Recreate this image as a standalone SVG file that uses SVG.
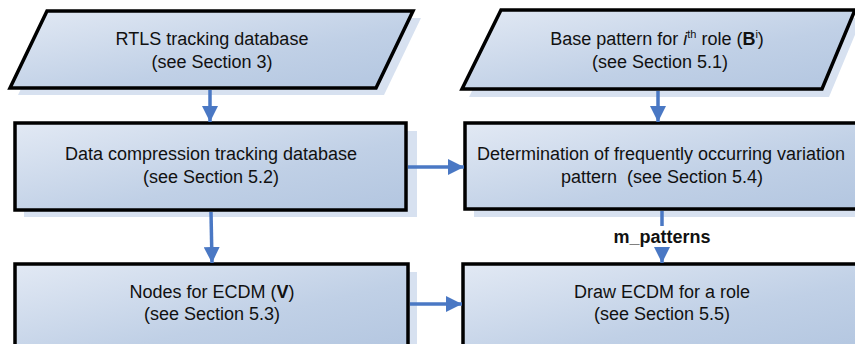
<svg xmlns="http://www.w3.org/2000/svg" width="855" height="344" viewBox="0 0 855 344">
<defs>
<linearGradient id="g" x1="0" y1="0" x2="1" y2="1">
<stop offset="0" stop-color="#e2e9f4"/>
<stop offset="0.6" stop-color="#c0d0e6"/>
<stop offset="1" stop-color="#b3c6e0"/>
</linearGradient>
<marker id="ah" markerUnits="userSpaceOnUse" markerWidth="16" markerHeight="16" viewBox="0 0 16 16" refX="16" refY="8" orient="auto">
<path d="M0,0 L16,8 L0,16 Z" fill="#4a78c4"/>
</marker>
</defs>
<style>
.sh{fill:#d7e1f0;}
.nd{fill:url(#g);stroke:#000;stroke-width:3.5;stroke-linejoin:miter;}
text{font-family:"Liberation Sans",Arial,sans-serif;font-size:18px;fill:#111;text-anchor:middle;}
.c{fill:none;stroke:#4a78c4;stroke-width:3.5;}
.b{font-weight:bold;}
</style>
<g id="n1">
<polygon class="sh" points="55,18 421,18 384,95 18,95"/>
<polygon class="nd" points="47,11 413,11 376,88 10,88"/>
<text x="212" y="45">RTLS tracking database</text>
<text x="212" y="68">(see Section 3)</text>
</g>
<g id="n2">
<polygon class="sh" points="508,18 862,18 829,97 469,97"/>
<polygon class="nd" points="501,10 855,10 822,89 462,89"/>
<text x="657" y="45">Base pattern for <tspan font-style="italic">i</tspan><tspan font-size="11" dy="-7">th</tspan><tspan dy="7"> role (</tspan><tspan class="b">B</tspan><tspan font-size="11" dy="-7">i</tspan><tspan dy="7">)</tspan></text>
<text x="660" y="68">(see Section 5.1)</text>
</g>
<g id="n3">
<rect class="sh" x="24" y="131" width="393" height="86"/>
<rect class="nd" x="15" y="123" width="391" height="87"/>
<text x="211" y="160">Data compression tracking database</text>
<text x="211" y="183">(see Section 5.2)</text>
</g>
<g id="n4">
<rect class="sh" x="474" y="131" width="400" height="86"/>
<rect class="nd" x="465" y="123" width="400" height="86"/>
<text x="661" y="160">Determination of frequently occurring variation</text>
<text x="662" y="183" xml:space="preserve">pattern  (see Section 5.4)</text>
</g>
<g id="n5">
<rect class="sh" x="24" y="272" width="393" height="90"/>
<rect class="nd" x="15" y="264" width="393" height="90"/>
<text x="212" y="298">Nodes for ECDM (<tspan class="b">V</tspan>)</text>
<text x="212" y="320">(see Section 5.3)</text>
</g>
<g id="n6">
<rect class="sh" x="472" y="272" width="400" height="90"/>
<rect class="nd" x="463" y="264" width="400" height="90"/>
<text x="662" y="298">Draw ECDM for a role</text>
<text x="662" y="320">(see Section 5.5)</text>
</g>
<g id="connectors">
<line class="c" x1="210" y1="90" x2="210" y2="122" marker-end="url(#ah)"/>
<line class="c" x1="658" y1="91" x2="658" y2="122" marker-end="url(#ah)"/>
<line class="c" x1="408" y1="167" x2="464" y2="167" marker-end="url(#ah)"/>
<line class="c" x1="211" y1="212" x2="212" y2="263" marker-end="url(#ah)"/>
<line class="c" x1="410" y1="304" x2="462" y2="304" marker-end="url(#ah)"/>
<line class="c" x1="662" y1="211" x2="662" y2="226"/>
<line class="c" x1="662" y1="250" x2="662" y2="263" marker-end="url(#ah)"/>
<text class="b" x="662" y="243">m_patterns</text>
</g>
</svg>
